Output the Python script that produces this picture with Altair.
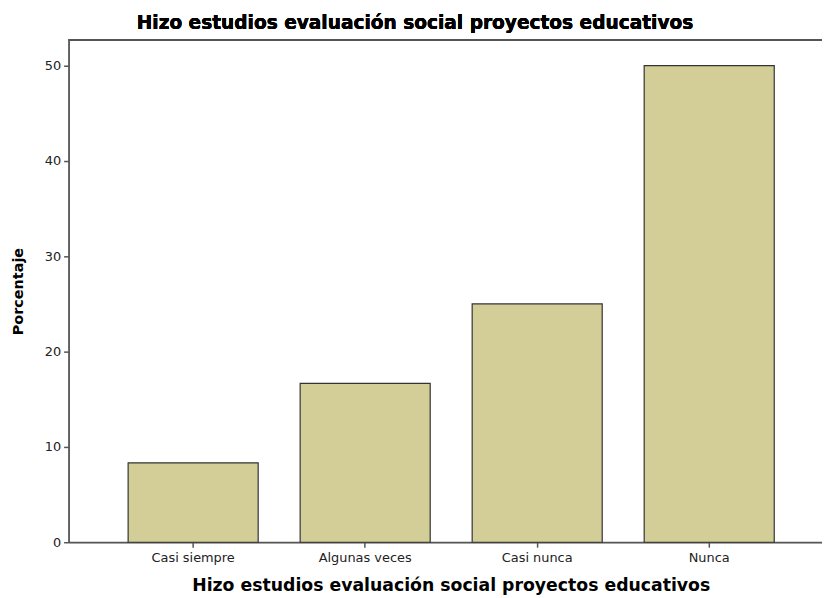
import altair as alt
import pandas as pd

categories = ["Casi siempre", "Algunas veces", "Casi nunca", "Nunca"]
percentages = [8.33, 16.67, 25.0, 50.0]
y_ticks = [0, 10, 20, 30, 40, 50]

title_text = "Hizo estudios evaluación social proyectos educativos"
x_title = "Hizo estudios evaluación social proyectos educativos"
y_title = "Porcentaje"

df = pd.DataFrame({"cat": categories, "pct": percentages})

W, H = 759, 506

bars = alt.Chart(df).mark_bar(
    color="#d3ce97", stroke="#333333", strokeWidth=1.2
).encode(
    x=alt.X(
        "cat:N",
        sort=categories,
        scale=alt.Scale(paddingInner=0.244, paddingOuter=0.312, align=0.555),
        axis=alt.Axis(
            title=x_title,
            labelAngle=0,
            labelFont="DejaVu Sans",
            labelFontSize=13,
            labelColor="#222222",
            labelPadding=4,
            tickSize=5,
            tickColor="#555555",
            tickWidth=1.5,
            domainColor="#555555",
            domainWidth=1.8,
            titleFont="DejaVu Sans",
            titleFontSize=17.4,
            titleFontWeight="bold",
            titleColor="#000000",
            titleX=385,
            titleY=35,
            titleBaseline="top",
        ),
    ),
    y=alt.Y(
        "pct:Q",
        scale=alt.Scale(domain=[0, 52.7], nice=False, zero=True),
        axis=alt.Axis(
            title=y_title,
            values=y_ticks,
            grid=False,
            labelFont="DejaVu Sans",
            labelFontSize=13,
            labelColor="#222222",
            labelPadding=3,
            tickSize=5,
            tickColor="#555555",
            tickWidth=1.5,
            domainColor="#555555",
            domainWidth=1.8,
            titleFont="DejaVu Sans",
            titleFontSize=14.5,
            titleFontWeight="bold",
            titleColor="#000000",
            titleX=-57,
            titleBaseline="top",
        ),
    ),
)

top_border = alt.Chart(df).mark_rule(color="#555555", strokeWidth=1.8).encode(
    x=alt.value(0), x2=alt.value(W), y=alt.value(0)
)

title_mark = alt.Chart(df).mark_text(
    font="DejaVu Sans",
    fontSize=18.7,
    fontWeight="bold",
    color="#000000",
    align="center",
    baseline="alphabetic",
).encode(
    x=alt.value(349), y=alt.value(-11), text=alt.value(title_text)
)

chart = alt.layer(bars, top_border, title_mark).properties(
    width=W,
    height=H,
    autosize=alt.AutoSizeParams(type="none"),
    padding={"left": 61, "top": 30, "right": 0, "bottom": 52},
).configure_view(
    fill="#f0f0f0", stroke=None
).configure(background="white")

chart.save("out.html", embed_options={"renderer": "svg", "actions": False})
